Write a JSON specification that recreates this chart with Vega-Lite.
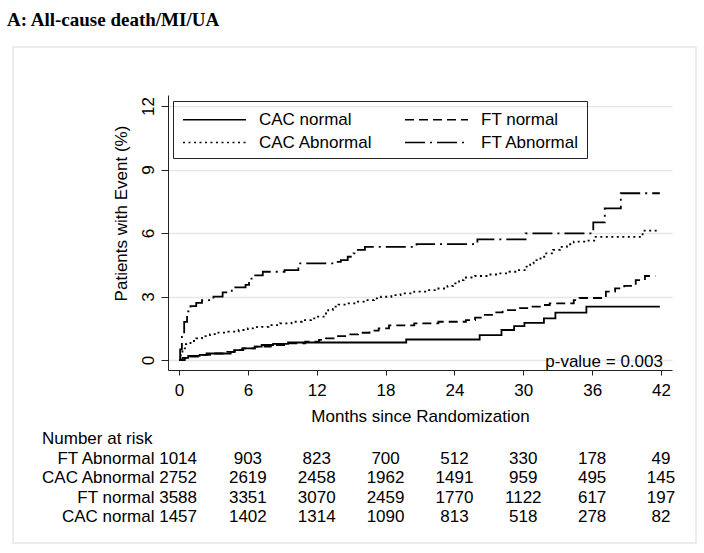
{
  "$schema": "https://vega.github.io/schema/vega-lite/v6.json",
  "width": 683,
  "height": 496,
  "autosize": {"type": "none"},
  "padding": {"left": 13, "top": 47, "right": 8, "bottom": 10},
  "background": "white",
  "title": {"text": "A: All-cause death/MI/UA", "anchor": "start", "frame": "group", "font": "Liberation Serif", "fontSize": 19, "fontWeight": "bold", "color": "#000", "dx": -6, "offset": 2, "baseline": "alphabetic"},
  "config": {"view": {"stroke": "#e6e6e6", "strokeWidth": 1.5}, "font": "Liberation Sans"},
  "datasets": {
    "km": [
      {"group": "CAC normal", "month": 0, "pct": 0},
      {"group": "CAC normal", "month": 0.3, "pct": 0.1},
      {"group": "CAC normal", "month": 0.8, "pct": 0.2},
      {"group": "CAC normal", "month": 1.8, "pct": 0.24},
      {"group": "CAC normal", "month": 2.4, "pct": 0.31},
      {"group": "CAC normal", "month": 4.5, "pct": 0.39},
      {"group": "CAC normal", "month": 4.8, "pct": 0.47},
      {"group": "CAC normal", "month": 5.5, "pct": 0.55},
      {"group": "CAC normal", "month": 6.6, "pct": 0.63},
      {"group": "CAC normal", "month": 7.2, "pct": 0.71},
      {"group": "CAC normal", "month": 8.2, "pct": 0.76},
      {"group": "CAC normal", "month": 9.5, "pct": 0.83},
      {"group": "CAC normal", "month": 19.8, "pct": 0.97},
      {"group": "CAC normal", "month": 26.2, "pct": 1.18},
      {"group": "CAC normal", "month": 28.1, "pct": 1.42},
      {"group": "CAC normal", "month": 29.2, "pct": 1.6},
      {"group": "CAC normal", "month": 30.1, "pct": 1.76},
      {"group": "CAC normal", "month": 31.8, "pct": 1.97},
      {"group": "CAC normal", "month": 32.8, "pct": 2.24},
      {"group": "CAC normal", "month": 35.5, "pct": 2.52},
      {"group": "CAC normal", "month": 41.9, "pct": 2.52},
      {"group": "FT normal", "month": 0, "pct": 0},
      {"group": "FT normal", "month": 0.5, "pct": 0.08},
      {"group": "FT normal", "month": 1.0, "pct": 0.16},
      {"group": "FT normal", "month": 1.8, "pct": 0.24},
      {"group": "FT normal", "month": 3.0, "pct": 0.31},
      {"group": "FT normal", "month": 4.2, "pct": 0.39},
      {"group": "FT normal", "month": 5.0, "pct": 0.47},
      {"group": "FT normal", "month": 5.6, "pct": 0.55},
      {"group": "FT normal", "month": 6.6, "pct": 0.63},
      {"group": "FT normal", "month": 8.0, "pct": 0.71},
      {"group": "FT normal", "month": 9.3, "pct": 0.79},
      {"group": "FT normal", "month": 11.0, "pct": 0.87},
      {"group": "FT normal", "month": 12.2, "pct": 0.95},
      {"group": "FT normal", "month": 12.8, "pct": 1.02},
      {"group": "FT normal", "month": 13.6, "pct": 1.13},
      {"group": "FT normal", "month": 14.8, "pct": 1.21},
      {"group": "FT normal", "month": 15.6, "pct": 1.29},
      {"group": "FT normal", "month": 16.6, "pct": 1.39},
      {"group": "FT normal", "month": 17.4, "pct": 1.5},
      {"group": "FT normal", "month": 18.3, "pct": 1.64},
      {"group": "FT normal", "month": 20.5, "pct": 1.73},
      {"group": "FT normal", "month": 22.6, "pct": 1.81},
      {"group": "FT normal", "month": 25.0, "pct": 1.89},
      {"group": "FT normal", "month": 25.8, "pct": 2.0},
      {"group": "FT normal", "month": 26.3, "pct": 2.13},
      {"group": "FT normal", "month": 27.5, "pct": 2.25},
      {"group": "FT normal", "month": 28.2, "pct": 2.36},
      {"group": "FT normal", "month": 29.7, "pct": 2.45},
      {"group": "FT normal", "month": 30.5, "pct": 2.52},
      {"group": "FT normal", "month": 31.8, "pct": 2.6},
      {"group": "FT normal", "month": 32.3, "pct": 2.68},
      {"group": "FT normal", "month": 34.4, "pct": 2.83},
      {"group": "FT normal", "month": 34.9, "pct": 2.93},
      {"group": "FT normal", "month": 37.2, "pct": 3.23},
      {"group": "FT normal", "month": 38.0, "pct": 3.39},
      {"group": "FT normal", "month": 38.8, "pct": 3.5},
      {"group": "FT normal", "month": 39.8, "pct": 3.78},
      {"group": "FT normal", "month": 40.6, "pct": 3.97},
      {"group": "FT normal", "month": 41.5, "pct": 3.97},
      {"group": "CAC Abnormal", "month": 0, "pct": 0},
      {"group": "CAC Abnormal", "month": 0.15, "pct": 0.3},
      {"group": "CAC Abnormal", "month": 0.3, "pct": 0.55},
      {"group": "CAC Abnormal", "month": 0.6, "pct": 0.75},
      {"group": "CAC Abnormal", "month": 1.0, "pct": 0.9},
      {"group": "CAC Abnormal", "month": 1.5, "pct": 1.02},
      {"group": "CAC Abnormal", "month": 2.0, "pct": 1.13},
      {"group": "CAC Abnormal", "month": 2.7, "pct": 1.22},
      {"group": "CAC Abnormal", "month": 3.3, "pct": 1.3},
      {"group": "CAC Abnormal", "month": 4.3, "pct": 1.34},
      {"group": "CAC Abnormal", "month": 5.2, "pct": 1.42},
      {"group": "CAC Abnormal", "month": 6.0, "pct": 1.5},
      {"group": "CAC Abnormal", "month": 6.8, "pct": 1.57},
      {"group": "CAC Abnormal", "month": 7.8, "pct": 1.65},
      {"group": "CAC Abnormal", "month": 8.8, "pct": 1.73},
      {"group": "CAC Abnormal", "month": 9.8, "pct": 1.81},
      {"group": "CAC Abnormal", "month": 10.7, "pct": 1.89},
      {"group": "CAC Abnormal", "month": 11.5, "pct": 1.97},
      {"group": "CAC Abnormal", "month": 12.0, "pct": 2.05},
      {"group": "CAC Abnormal", "month": 12.6, "pct": 2.2},
      {"group": "CAC Abnormal", "month": 13.0, "pct": 2.36},
      {"group": "CAC Abnormal", "month": 13.4, "pct": 2.52},
      {"group": "CAC Abnormal", "month": 13.9, "pct": 2.62},
      {"group": "CAC Abnormal", "month": 14.6, "pct": 2.68},
      {"group": "CAC Abnormal", "month": 15.5, "pct": 2.76},
      {"group": "CAC Abnormal", "month": 16.1, "pct": 2.83},
      {"group": "CAC Abnormal", "month": 17.0, "pct": 2.91},
      {"group": "CAC Abnormal", "month": 17.6, "pct": 2.99},
      {"group": "CAC Abnormal", "month": 18.5, "pct": 3.07},
      {"group": "CAC Abnormal", "month": 19.3, "pct": 3.15},
      {"group": "CAC Abnormal", "month": 20.5, "pct": 3.23},
      {"group": "CAC Abnormal", "month": 21.6, "pct": 3.3},
      {"group": "CAC Abnormal", "month": 22.6, "pct": 3.38},
      {"group": "CAC Abnormal", "month": 23.4, "pct": 3.5},
      {"group": "CAC Abnormal", "month": 23.9, "pct": 3.62},
      {"group": "CAC Abnormal", "month": 24.4, "pct": 3.78},
      {"group": "CAC Abnormal", "month": 24.8, "pct": 3.9},
      {"group": "CAC Abnormal", "month": 25.8, "pct": 3.97},
      {"group": "CAC Abnormal", "month": 27.0, "pct": 4.04},
      {"group": "CAC Abnormal", "month": 28.0, "pct": 4.09},
      {"group": "CAC Abnormal", "month": 28.8, "pct": 4.17},
      {"group": "CAC Abnormal", "month": 29.4, "pct": 4.25},
      {"group": "CAC Abnormal", "month": 30.2, "pct": 4.41},
      {"group": "CAC Abnormal", "month": 30.6, "pct": 4.57},
      {"group": "CAC Abnormal", "month": 30.9, "pct": 4.72},
      {"group": "CAC Abnormal", "month": 31.5, "pct": 4.88},
      {"group": "CAC Abnormal", "month": 32.0, "pct": 5.04},
      {"group": "CAC Abnormal", "month": 32.6, "pct": 5.2},
      {"group": "CAC Abnormal", "month": 33.2, "pct": 5.35},
      {"group": "CAC Abnormal", "month": 33.8, "pct": 5.47},
      {"group": "CAC Abnormal", "month": 34.4, "pct": 5.59},
      {"group": "CAC Abnormal", "month": 35.4, "pct": 5.64},
      {"group": "CAC Abnormal", "month": 36.3, "pct": 5.82},
      {"group": "CAC Abnormal", "month": 40.4, "pct": 6.11},
      {"group": "CAC Abnormal", "month": 41.9, "pct": 6.11},
      {"group": "FT Abnormal", "month": 0, "pct": 0},
      {"group": "FT Abnormal", "month": 0.1, "pct": 0.5},
      {"group": "FT Abnormal", "month": 0.25, "pct": 1.2},
      {"group": "FT Abnormal", "month": 0.45, "pct": 1.8},
      {"group": "FT Abnormal", "month": 0.7, "pct": 2.3},
      {"group": "FT Abnormal", "month": 1.0, "pct": 2.55},
      {"group": "FT Abnormal", "month": 1.5, "pct": 2.7},
      {"group": "FT Abnormal", "month": 2.0, "pct": 2.83},
      {"group": "FT Abnormal", "month": 3.0, "pct": 3.0},
      {"group": "FT Abnormal", "month": 3.8, "pct": 3.2},
      {"group": "FT Abnormal", "month": 4.6, "pct": 3.43},
      {"group": "FT Abnormal", "month": 5.8, "pct": 3.55},
      {"group": "FT Abnormal", "month": 6.1, "pct": 3.85},
      {"group": "FT Abnormal", "month": 6.5, "pct": 4.0},
      {"group": "FT Abnormal", "month": 7.3, "pct": 4.17},
      {"group": "FT Abnormal", "month": 9.2, "pct": 4.25},
      {"group": "FT Abnormal", "month": 10.4, "pct": 4.57},
      {"group": "FT Abnormal", "month": 13.5, "pct": 4.64},
      {"group": "FT Abnormal", "month": 14.1, "pct": 4.72},
      {"group": "FT Abnormal", "month": 14.7, "pct": 4.88},
      {"group": "FT Abnormal", "month": 15.2, "pct": 5.04},
      {"group": "FT Abnormal", "month": 15.5, "pct": 5.2},
      {"group": "FT Abnormal", "month": 16.2, "pct": 5.35},
      {"group": "FT Abnormal", "month": 20.7, "pct": 5.48},
      {"group": "FT Abnormal", "month": 26.0, "pct": 5.7},
      {"group": "FT Abnormal", "month": 30.2, "pct": 5.98},
      {"group": "FT Abnormal", "month": 36.1, "pct": 6.5},
      {"group": "FT Abnormal", "month": 37.1, "pct": 7.16},
      {"group": "FT Abnormal", "month": 38.5, "pct": 7.88},
      {"group": "FT Abnormal", "month": 41.9, "pct": 7.88}
    ],
    "risk": [
      {"row": "FT Abnormal", "month": 0, "n": 1014},
      {"row": "FT Abnormal", "month": 6, "n": 903},
      {"row": "FT Abnormal", "month": 12, "n": 823},
      {"row": "FT Abnormal", "month": 18, "n": 700},
      {"row": "FT Abnormal", "month": 24, "n": 512},
      {"row": "FT Abnormal", "month": 30, "n": 330},
      {"row": "FT Abnormal", "month": 36, "n": 178},
      {"row": "FT Abnormal", "month": 42, "n": 49},
      {"row": "CAC Abnormal", "month": 0, "n": 2752},
      {"row": "CAC Abnormal", "month": 6, "n": 2619},
      {"row": "CAC Abnormal", "month": 12, "n": 2458},
      {"row": "CAC Abnormal", "month": 18, "n": 1962},
      {"row": "CAC Abnormal", "month": 24, "n": 1491},
      {"row": "CAC Abnormal", "month": 30, "n": 959},
      {"row": "CAC Abnormal", "month": 36, "n": 495},
      {"row": "CAC Abnormal", "month": 42, "n": 145},
      {"row": "FT normal", "month": 0, "n": 3588},
      {"row": "FT normal", "month": 6, "n": 3351},
      {"row": "FT normal", "month": 12, "n": 3070},
      {"row": "FT normal", "month": 18, "n": 2459},
      {"row": "FT normal", "month": 24, "n": 1770},
      {"row": "FT normal", "month": 30, "n": 1122},
      {"row": "FT normal", "month": 36, "n": 617},
      {"row": "FT normal", "month": 42, "n": 197},
      {"row": "CAC normal", "month": 0, "n": 1457},
      {"row": "CAC normal", "month": 6, "n": 1402},
      {"row": "CAC normal", "month": 12, "n": 1314},
      {"row": "CAC normal", "month": 18, "n": 1090},
      {"row": "CAC normal", "month": 24, "n": 813},
      {"row": "CAC normal", "month": 30, "n": 518},
      {"row": "CAC normal", "month": 36, "n": 278},
      {"row": "CAC normal", "month": 42, "n": 82}
    ]
  },
  "layer": [
    {
      "layer": [
        {
          "data": {"name": "km"},
          "mark": {"type": "line", "interpolate": "step-after", "color": "#000", "strokeWidth": 1.8},
          "encoding": {
            "x": {
              "field": "month", "type": "quantitative",
              "scale": {"domain": [-0.96, 42.96], "range": [155, 659], "nice": false, "zero": false},
              "axis": {
                "values": [0, 6, 12, 18, 24, 30, 36, 42], "offset": -173, "grid": false,
                "title": "Months since Randomization", "titleFont": "Liberation Sans", "titleFontSize": 17, "titleFontWeight": "normal", "titleColor": "#000", "titlePadding": 10,
                "labelFont": "Liberation Sans", "labelFontSize": 17, "labelColor": "#000", "labelPadding": 7, "labelFlush": false, "labelOverlap": false,
                "domainColor": "#222", "domainWidth": 1, "tickColor": "#222", "tickSize": 5, "tickWidth": 1
              }
            },
            "y": {
              "field": "pct", "type": "quantitative",
              "scale": {"domain": [-0.47, 12.52], "range": [323, 48], "nice": false, "zero": false},
              "axis": {
                "values": [0, 3, 6, 9, 12], "offset": -155, "grid": true, "gridColor": "#e6e6e6", "gridWidth": 1.5,
                "title": "Patients with Event (%)", "titleFont": "Liberation Sans", "titleFontSize": 17, "titleFontWeight": "normal", "titleColor": "#000", "titlePadding": 9, "titleY": 166,
                "labelFont": "Liberation Sans", "labelFontSize": 17, "labelColor": "#000", "labelPadding": 4, "labelAngle": -90, "labelFlush": false, "labelOverlap": false,
                "domainColor": "#222", "domainWidth": 1, "tickColor": "#222", "tickSize": 7, "tickWidth": 1
              }
            },
            "strokeDash": {
              "field": "group", "type": "nominal",
              "scale": {"domain": ["CAC normal", "CAC Abnormal", "FT normal", "FT Abnormal"], "range": [[1, 0], [2, 3.5], [9, 5], [20, 5, 2, 5]]},
              "legend": {
                "title": null, "orient": "none", "legendX": 160, "legendY": 54, "columns": 2,
                "symbolType": "M-0.81,0H5.19", "symbolSize": 441, "symbolStrokeWidth": 1.5, "symbolStrokeColor": "#000",
                "labelFont": "Liberation Sans", "labelFontSize": 17, "labelColor": "#000", "labelOffset": 56, "labelLimit": 400,
                "columnPadding": 28, "rowPadding": 3, "padding": 7, "strokeColor": "#222"
              }
            }
          }
        },
        {
          "data": {"values": [{"month": 42.17, "pct": -0.33, "label": "p-value = 0.003"}]},
          "mark": {"type": "text", "align": "right", "baseline": "alphabetic", "font": "Liberation Sans", "fontSize": 17, "color": "#000"},
          "encoding": {
            "x": {"field": "month", "type": "quantitative"},
            "y": {"field": "pct", "type": "quantitative"},
            "text": {"field": "label"}
          }
        }
      ]
    },
    {
      "layer": [
        {
          "data": {"values": [{"row": "Number at risk", "month": 0}]},
          "mark": {"type": "text", "align": "left", "baseline": "middle", "dx": -137, "font": "Liberation Sans", "fontSize": 17, "color": "#000"},
          "encoding": {
            "x": {"field": "month", "type": "quantitative"},
            "y": {"field": "row", "type": "ordinal", "scale": {"type": "point", "domain": ["Number at risk", "FT Abnormal", "CAC Abnormal", "FT normal", "CAC normal"], "range": [392, 470], "padding": 0}, "axis": null},
            "text": {"field": "row"}
          }
        },
        {
          "data": {"name": "risk"},
          "transform": [{"filter": "datum.month > 0"}],
          "mark": {"type": "text", "align": "center", "baseline": "middle", "font": "Liberation Sans", "fontSize": 17, "color": "#000"},
          "encoding": {
            "x": {"field": "month", "type": "quantitative"},
            "y": {"field": "row", "type": "ordinal"},
            "text": {"field": "n", "type": "quantitative"}
          }
        },
        {
          "data": {"name": "risk"},
          "transform": [{"filter": "datum.month == 0"}, {"calculate": "datum.row + ' ' + datum.n", "as": "label"}],
          "mark": {"type": "text", "align": "right", "baseline": "middle", "dx": 18, "font": "Liberation Sans", "fontSize": 17, "color": "#000"},
          "encoding": {
            "x": {"field": "month", "type": "quantitative"},
            "y": {"field": "row", "type": "ordinal"},
            "text": {"field": "label"}
          }
        }
      ]
    }
  ],
  "resolve": {"scale": {"y": "independent"}, "axis": {"y": "independent"}}
}
